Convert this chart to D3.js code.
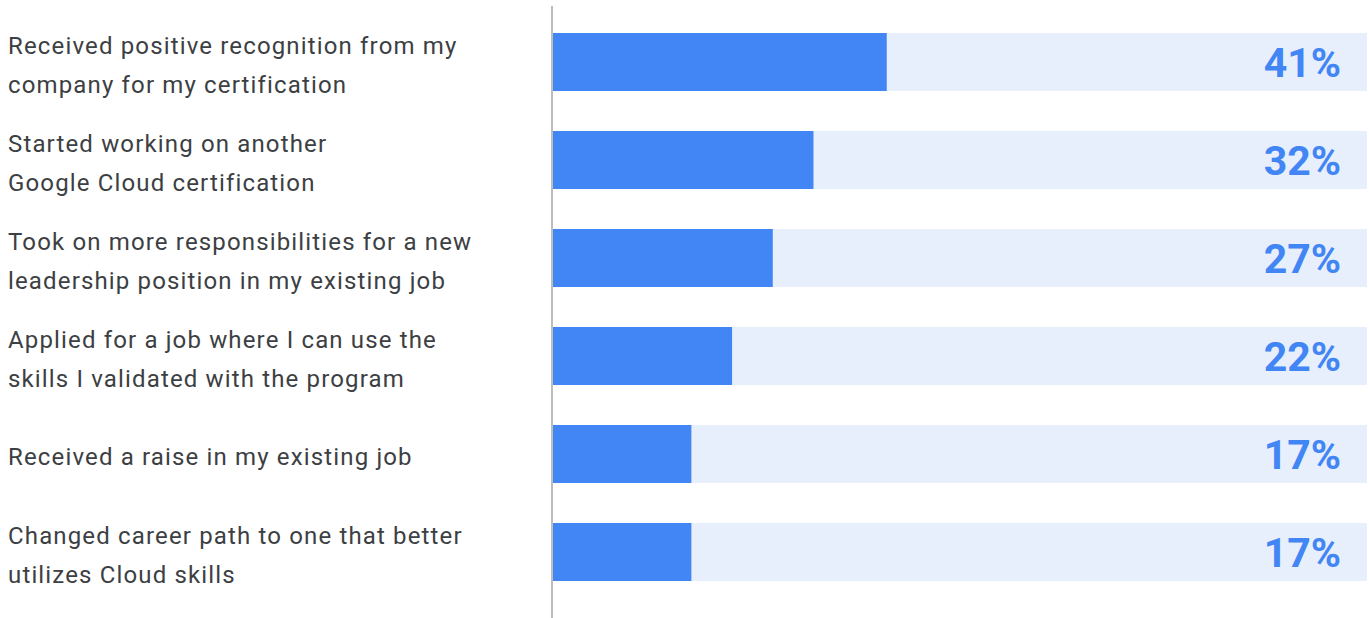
<!DOCTYPE html>
<html>
<head>
<meta charset="utf-8">
<script src="https://cdn.jsdelivr.net/npm/d3@7"></script>
<style>
  body { margin: 0; background: #fff; }
  svg { display: block; }
</style>
</head>
<body>
<div id="chart"></div>
<script>
// data
var categories = [
  "Received positive recognition from my|company for my certification",
  "Started working on another|Google Cloud certification",
  "Took on more responsibilities for a new|leadership position in my existing job",
  "Applied for a job where I can use the|skills I validated with the program",
  "Received a raise in my existing job",
  "Changed career path to one that better|utilizes Cloud skills"
];
var values = [41, 32, 27, 22, 17, 17];
var maxValue = 100;

var svgWidth = 1369;
var svgHeight = 618;

var svg = d3.select("#chart")
  .append("svg")
  .attr("width", svgWidth)
  .attr("height", svgHeight);

var rows = categories.map(function(c, i) {
  return { key: i, label: c, value: values[i] };
});

// scales
var xScale = d3.scaleLinear()
  .domain([0, maxValue])
  .range([553, 1367]);

var yScale = d3.scaleBand()
  .domain(rows.map(d => d.key))
  .range([33, 581])
  .paddingInner(0.408)
  .paddingOuter(0);

// background tracks
svg.append("g").selectAll("rect")
  .data(rows)
  .enter()
  .append("rect")
  .attr("x", xScale(0))
  .attr("y", d => yScale(d.key))
  .attr("width", xScale(maxValue) - xScale(0))
  .attr("height", yScale.bandwidth())
  .attr("fill", "#e8effc");

// value bars
svg.append("g").selectAll("rect")
  .data(rows)
  .enter()
  .append("rect")
  .attr("x", xScale(0))
  .attr("y", d => yScale(d.key))
  .attr("width", d => xScale(d.value) - xScale(0))
  .attr("height", yScale.bandwidth())
  .attr("fill", "#4285f4");

// vertical axis line
svg.append("line")
  .attr("x1", xScale(0) - 1)
  .attr("x2", xScale(0) - 1)
  .attr("y1", 6)
  .attr("y2", svgHeight)
  .attr("stroke", "#bdbdbd")
  .attr("stroke-width", 2);

// value labels
svg.append("g").selectAll("text")
  .data(rows)
  .enter()
  .append("text")
  .attr("x", xScale(maxValue) - 26)
  .attr("y", d => yScale(d.key) + yScale.bandwidth() / 2 + 15)
  .attr("text-anchor", "end")
  .attr("font-family", "Roboto, sans-serif")
  .attr("font-size", "41px")
  .attr("font-weight", "700")
  .attr("fill", "#4285f4")
  .text(d => d.value + "%");

// category labels
var labels = svg.append("g").selectAll("text")
  .data(rows)
  .enter()
  .append("text")
  .attr("font-family", "Roboto, sans-serif")
  .attr("font-size", "24px")
  .attr("letter-spacing", "1.15px")
  .attr("fill", "#3c4043");

labels.each(function(d) {
  var lines = d.label.split("|");
  var mid = yScale(d.key) + yScale.bandwidth() / 2;
  var first = lines.length === 1 ? mid + 11 : mid - 8;
  d3.select(this).selectAll("tspan")
    .data(lines)
    .enter()
    .append("tspan")
    .attr("x", 8)
    .attr("y", (l, i) => first + i * 39)
    .text(l => l);
});
</script>
</body>
</html>
